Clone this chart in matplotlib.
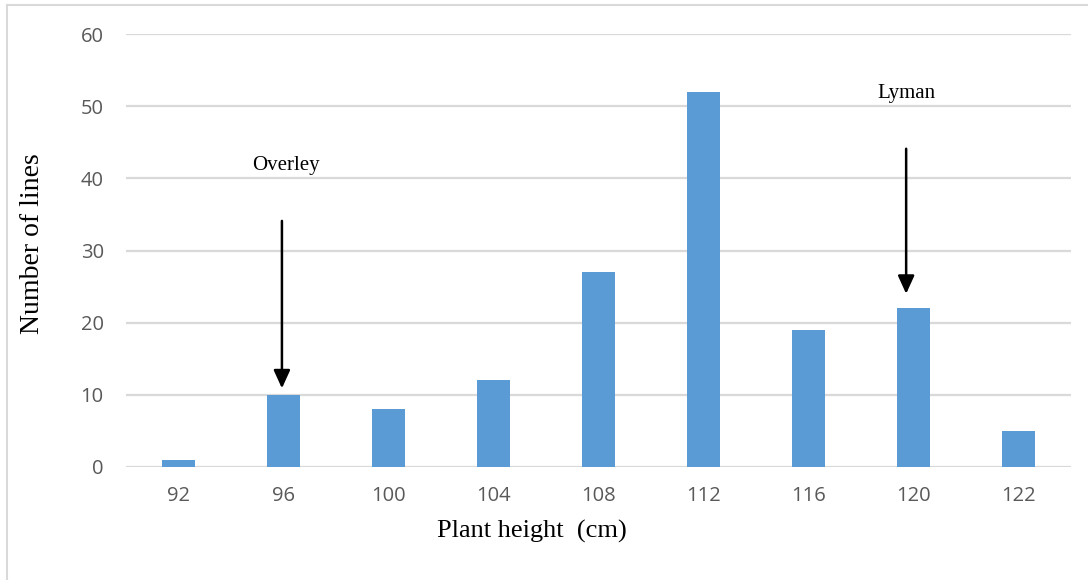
import matplotlib
matplotlib.use("Agg")
import matplotlib.pyplot as plt
from matplotlib.lines import Line2D

categories = ["92", "96", "100", "104", "108", "112", "116", "120", "122"]
counts = [1, 10, 8, 12, 27, 52, 19, 22, 5]
y_ticks = [0, 10, 20, 30, 40, 50, 60]

annotations = [
    # label, text x, arrow x (category position), text y, arrow start y, arrow end y
    ("Overley", 1.02, 0.985, 41.8, 34.1, 10.9),
    ("Lyman", 6.93, 6.93, 51.8, 44.1, 24.0),
]

W, H = 1088, 580
fig = plt.figure(figsize=(W / 100, H / 100), dpi=100)
ax = fig.add_axes([126 / W, (H - 467) / H, (1071 - 126) / W, (467 - 34) / H])

x = list(range(len(categories)))
ax.bar(x, counts, width=0.31, color="#5B9BD5", zorder=3)
ax.set_xlim(-0.5, len(categories) - 0.5)
ax.set_ylim(0, 60)
ax.set_yticks(y_ticks)
ax.set_xticks(x)
ax.set_xticklabels(categories)
ax.yaxis.grid(True, color="#D9D9D9", linewidth=1.6, zorder=0)
ax.set_axisbelow(True)
for s in ["top", "right", "left", "bottom"]:
    ax.spines[s].set_visible(False)
ax.tick_params(axis="both", length=0, labelsize=14.5, labelcolor="#595959")
for lab in ax.get_xticklabels() + ax.get_yticklabels():
    lab.set_fontfamily("Open Sans")
ax.tick_params(axis="y", pad=16)
ax.tick_params(axis="x", pad=14)

fig.text(532 / W, 1 - 531 / H, "Plant height  (cm)", ha="center", va="center",
         fontfamily="Liberation Serif", fontsize=19)
fig.text(33 / W, 1 - 244 / H, "Number of lines", ha="center", va="center", rotation=90,
         fontfamily="Liberation Serif", fontsize=20)

for label, tx, px, ty, y0, y1 in annotations:
    ax.text(tx, ty, label, ha="center", va="center",
            fontfamily="Liberation Serif", fontsize=15)
    ax.annotate("", xy=(px, y1), xytext=(px, y0),
                arrowprops=dict(arrowstyle="-|>,head_width=0.5,head_length=1.1",
                                color="black", lw=1.8, shrinkA=0, shrinkB=0))

# outer chart border (left and top edges visible)
fig.add_artist(Line2D([7 / W, 7 / W], [0, 1 - 5 / H], transform=fig.transFigure,
                      color="#D9D9D9", lw=1.5))
fig.add_artist(Line2D([7 / W, 1], [1 - 5 / H, 1 - 5 / H], transform=fig.transFigure,
                      color="#D9D9D9", lw=1.5))

fig.savefig("out.png", dpi=100)
